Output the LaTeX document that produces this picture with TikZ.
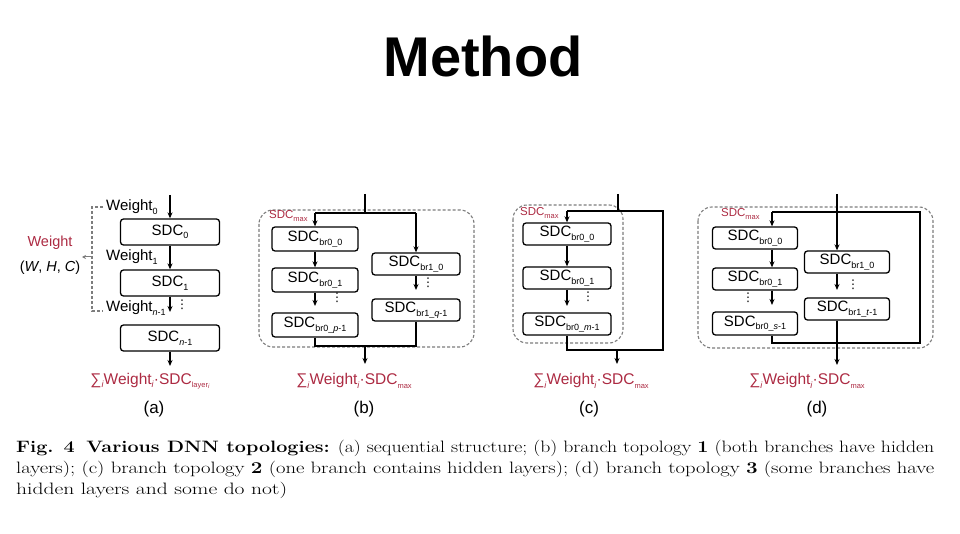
\documentclass[tikz,border=0pt]{standalone}
\usepackage{fontspec}
\usepackage{graphicx}
\setsansfont{Liberation Sans}
\newfontfamily\djv{DejaVu Sans}
\usetikzlibrary{arrows.meta}
\definecolor{myred}{RGB}{172,42,66}
\definecolor{dashgray}{RGB}{125,125,125}
\newcommand\dn[1]{\raisebox{-0.45ex}{\fontsize{9}{9}\selectfont #1}}
\newcommand\dns[1]{\raisebox{-0.4ex}{\fontsize{7.5}{8}\selectfont #1}}
\newcommand\dnn[1]{\raisebox{-0.3ex}{\fontsize{6}{6}\selectfont #1}}
\tikzset{
 blk/.style={draw, line width=1.3pt, rounded corners=3pt, fill=white, inner sep=0pt, font=\sffamily\fontsize{15}{15}\selectfont},
 arr/.style={line width=1.3pt, -{Stealth[length=6pt,width=5pt]}},
 ln/.style={line width=1.3pt},
 grp/.style={draw=dashgray, dash pattern=on 3pt off 2pt, line width=1.1pt, rounded corners=14pt},
 gline/.style={draw=dashgray, dash pattern=on 3pt off 2pt, line width=1.1pt},
 lbl/.style={font=\sffamily\fontsize{15}{15}\selectfont, inner sep=0pt},
 redlbl/.style={text=myred, font=\sffamily\fontsize{11.5}{12}\selectfont, inner sep=0pt},
 sumlbl/.style={text=myred, font=\sffamily\fontsize{15.5}{16}\selectfont, inner sep=0pt},
 capl/.style={font=\sffamily\fontsize{17}{17}\selectfont, inner sep=0pt},
 vdot/.style={inner sep=0pt, font=\djv\fontsize{12}{12}\selectfont},
 capline/.style={anchor=base west, inner sep=0pt},
}
\begin{document}
\begin{tikzpicture}[x=1pt,y=-1pt]
\useasboundingbox (0,0) rectangle (960,534);
% title
\node[anchor=base, inner sep=0pt, font=\sffamily\bfseries\fontsize{56}{56}\selectfont] (title) at (483,77) {Method};

% ---------- (a) ----------
\node[blk, minimum width=99pt, minimum height=26pt] (a0) at (170,232) {SDC\dn{0}};
\node[blk, minimum width=99pt, minimum height=26pt] (a1) at (170,283) {SDC\dn{1}};
\node[blk, minimum width=99pt, minimum height=26pt] (a2) at (170,338) {SDC\dn{\textit{n}-1}};
\coordinate (ain) at (170,195);
\coordinate (agap) at (170,312);
\coordinate (aout) at (170,366);
\draw[arr] (ain) -- (a0);
\draw[arr] (a0) -- (a1);
\draw[arr] (a1) -- (agap);
\draw[arr] (a2) -- (aout);
\node[vdot] (adots) at (182,305) {⋮};
\node[lbl, anchor=base west] (w0) at (106,211) {Weight\dn{0}};
\node[lbl, anchor=base west] (w1) at (106,261) {Weight\dn{1}};
\node[lbl, anchor=base west] (w2) at (106,312) {Weight\dn{\textit{n}-1}};
\coordinate (bt0) at (103,207);
\coordinate (bt1) at (92,207);
\coordinate (bb1) at (92,311);
\coordinate (bb0) at (103,311);
\draw[gline] (bt0) -- (bt1) -- (bb1) -- (bb0);
\coordinate (bm) at (92,257);
\coordinate (bmt) at (82,257);
\draw[draw=dashgray, line width=1pt, -{Stealth[length=4pt,width=4pt]}] (bm) -- (bmt);
\node[inner sep=0pt, text=myred, font=\sffamily\fontsize{14.5}{15}\selectfont] (wt) at (50,243) {Weight};
\node[inner sep=0pt, font=\sffamily\fontsize{14.5}{15}\selectfont] (whc) at (50,268) {(\textit{W}, \textit{H}, \textit{C})};
\node[sumlbl] (sa) at (150,381) {∑\dn{\textit{i}}Weight\dn{\textit{i}}·SDC\dns{layer\dnn{\textit{i}}}};
\node[capl] (la) at (154,409) {(a)};

% ---------- (b) ----------
\draw[grp] (259,210) rectangle (474,347);
\node[redlbl, anchor=west] (bmax) at (269,216) {SDC\dns{max}};
\node[blk, minimum width=86pt, minimum height=24pt] (b00) at (315,239) {SDC\dn{br0\_0}};
\node[blk, minimum width=86pt, minimum height=24pt] (b01) at (315,280) {SDC\dn{br0\_1}};
\node[blk, minimum width=86pt, minimum height=24pt] (b02) at (315,325) {SDC\dn{br0\_\textit{p}-1}};
\node[blk, minimum width=88pt, minimum height=22pt] (b10) at (416,264) {SDC\dn{br1\_0}};
\node[blk, minimum width=88pt, minimum height=22pt] (b11) at (416,310) {SDC\dn{br1\_\textit{q}-1}};
\coordinate (bin) at (365,194);
\coordinate (bj) at (365,213);
\coordinate (bl) at (315,213);
\coordinate (br) at (416,213);
\draw[ln] (bin) -- (bj);
\draw[ln] (bl) -- (br);
\draw[arr] (bl) -- (b00);
\draw[arr] (br) -- (b10);
\draw[arr] (b00) -- (b01);
\coordinate (bg0) at (315,306);
\draw[arr] (b01) -- (bg0);
\coordinate (bg1) at (416,290);
\draw[arr] (b10) -- (bg1);
\node[vdot] (bd0) at (337,298) {⋮};
\node[vdot] (bd1) at (428,283) {⋮};
\coordinate (bbl) at (315,346);
\coordinate (bbr) at (416,346);
\coordinate (bbm) at (365,346);
\coordinate (bout) at (365,364);
\draw[ln] (b02) -- (bbl) -- (bbr) -- (b11);
\draw[arr] (bbm) -- (bout);
\node[sumlbl] (sb) at (354,381) {∑\dn{\textit{i}}Weight\dn{\textit{i}}·SDC\dns{max}};
\node[capl] (lb) at (364,409) {(b)};

% ---------- (c) ----------
\draw[grp] (513,205) rectangle (623,343);
\node[redlbl, anchor=west] (cmax) at (520,213) {SDC\dns{max}};
\node[blk, minimum width=88pt, minimum height=22pt] (c00) at (567,234) {SDC\dn{br0\_0}};
\node[blk, minimum width=88pt, minimum height=22pt] (c01) at (567,278) {SDC\dn{br0\_1}};
\node[blk, minimum width=88pt, minimum height=22pt] (c02) at (567,324) {SDC\dn{br0\_\textit{m}-1}};
\coordinate (cin) at (618,194);
\coordinate (cj) at (618,211);
\coordinate (cl) at (567,211);
\coordinate (cr) at (663,211);
\coordinate (cbr) at (663,350);
\coordinate (cbl) at (567,350);
\coordinate (cbm) at (617,350);
\coordinate (cout) at (617,364);
\coordinate (cg0) at (567,306);
\draw[ln] (cin) -- (cj);
\draw[ln] (cl) -- (cr) -- (cbr) -- (cbl) -- (c02);
\draw[arr] (cl) -- (c00);
\draw[arr] (c00) -- (c01);
\draw[arr] (c01) -- (cg0);
\node[vdot] (cd0) at (588,297) {⋮};
\draw[arr] (cbm) -- (cout);
\node[sumlbl] (sc) at (591,381) {∑\dn{\textit{i}}Weight\dn{\textit{i}}·SDC\dns{max}};
\node[capl] (lc) at (589,409) {(c)};

% ---------- (d) ----------
\draw[grp] (698,207) rectangle (933,348);
\node[redlbl, anchor=west] (dmax) at (721,214) {SDC\dns{max}};
\node[blk, minimum width=85pt, minimum height=22pt] (d00) at (755,238) {SDC\dn{br0\_0}};
\node[blk, minimum width=85pt, minimum height=22pt] (d01) at (755,279) {SDC\dn{br0\_1}};
\node[blk, minimum width=85pt, minimum height=23pt] (d02) at (755,323.5) {SDC\dn{br0\_\textit{s}-1}};
\node[blk, minimum width=85pt, minimum height=22pt] (d10) at (847,262) {SDC\dn{br1\_0}};
\node[blk, minimum width=85pt, minimum height=22pt] (d11) at (847,309) {SDC\dn{br1\_\textit{t}-1}};
\coordinate (din) at (837,194);
\coordinate (dtl) at (772,212);
\coordinate (dtr) at (920,212);
\coordinate (dbr) at (920,343);
\coordinate (dbl) at (772,343);
\coordinate (dg0) at (772,305);
\coordinate (dg1) at (837,290);
\coordinate (dout) at (837,365);
\draw[ln] (dtl) -- (dtr) -- (dbr) -- (dbl) -- (d02.south -| dtl);
\draw[arr] (dtl) -- (d00.north -| dtl);
\draw[arr] (d00.south -| dtl) -- (d01.north -| dtl);
\draw[arr] (d01.south -| dtl) -- (dg0);
\draw[arr] (din) -- (d10.north -| din);
\draw[arr] (d10.south -| din) -- (dg1);
\draw[arr] (d11.south -| din) -- (dout);
\node[vdot] (dd0) at (748,298) {⋮};
\node[vdot] (dd1) at (853,285) {⋮};
\node[sumlbl] (sd) at (807,381) {∑\dn{\textit{i}}Weight\dn{\textit{i}}·SDC\dns{max}};
\node[capl] (ld) at (817,409) {(d)};

% ---------- caption ----------
\node[capline] (cap1) at (16,452) {\resizebox{918pt}{\height}{\fontsize{16.5}{20}\selectfont\textbf{Fig. 4\hspace{0.6em}Various DNN topologies:} (a) sequential structure; (b) branch topology \textbf{1} (both branches have hidden}};
\node[capline] (cap2) at (16,473) {\resizebox{918pt}{\height}{\fontsize{16.5}{20}\selectfont layers); (c) branch topology \textbf{2} (one branch contains hidden layers); (d) branch topology \textbf{3} (some branches have}};
\node[capline] (cap3) at (16,494) {\resizebox{271pt}{\height}{\fontsize{16.5}{20}\selectfont hidden layers and some do not)}};
\end{tikzpicture}
\end{document}
